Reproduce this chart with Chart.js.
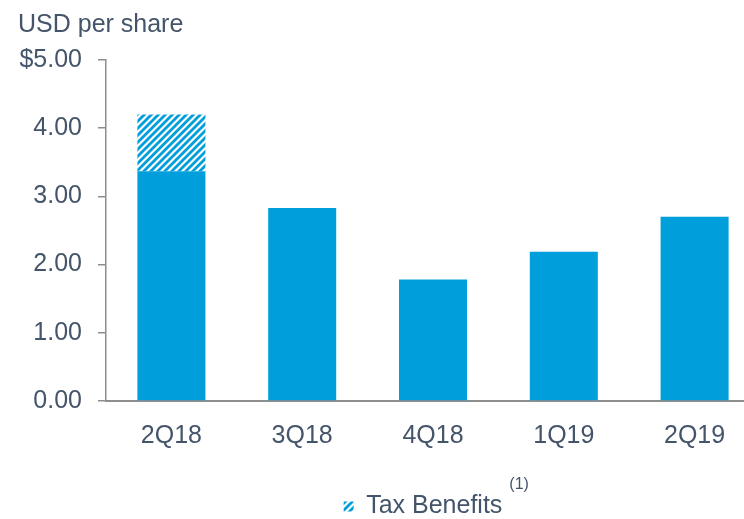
<!DOCTYPE html>
<html>
<head>
<meta charset="utf-8">
<script src="https://cdn.jsdelivr.net/npm/chart.js@4/dist/chart.umd.min.js"></script>
<style>
  html, body { margin: 0; padding: 0; overflow: hidden; background: #fff; }
  #wrap { position: relative; width: 760px; height: 519px; }
</style>
</head>
<body>
<div id="wrap"><canvas id="eps"></canvas></div>
<script>
const quarters = ["2Q18", "3Q18", "4Q18", "1Q19", "2Q19"];
const baseEps = [3.37, 2.83, 1.78, 2.19, 2.70];
const taxBenefits = [0.83, null, null, null, null];
const yTicks = [0, 1, 2, 3, 4, 5];

const BLUE = "#009fdb";
const TEXT = "#44546a";
const AXIS = "#8e8e8e";
const FONT = "'Liberation Sans', Arial, sans-serif";

const makeHatch = () => {
  const size = 7;
  const p = document.createElement("canvas");
  p.width = p.height = size;
  const c = p.getContext("2d");
  c.fillStyle = "#ffffff";
  c.fillRect(0, 0, size, size);
  c.strokeStyle = BLUE;
  c.lineWidth = 2.8;
  c.beginPath();
  c.moveTo(0, size); c.lineTo(size, 0);
  c.moveTo(-size / 2, size / 2); c.lineTo(size / 2, -size / 2);
  c.moveTo(size / 2, size * 1.5); c.lineTo(size * 1.5, size / 2);
  c.stroke();
  return c.createPattern(p, "repeat");
};
const hatch = makeHatch();

// legend sits a bit left of centre in the original, and carries a "(1)" note
const legendTweak = {
  id: "legendTweak",
  afterLayout(chart) {
    const legend = chart.legend;
    if (!legend) return;
    legend.left -= 10;
    legend.right -= 10;
  },
  afterDraw(chart) {
    const legend = chart.legend;
    if (!legend || !legend.legendHitBoxes.length) return;
    const box = legend.legendHitBoxes[0];
    const ctx = chart.ctx;
    ctx.save();
    ctx.font = `16px ${FONT}`;
    ctx.fillStyle = TEXT;
    ctx.textBaseline = "alphabetic";
    ctx.fillText("(1)", box.left + box.width + 7, box.top - 5);
    ctx.restore();
  },
};

new Chart(document.getElementById("eps"), {
  type: "bar",
  data: {
    labels: quarters,
    datasets: [
      {
        label: "EPS",
        data: baseEps,
        backgroundColor: BLUE,
        borderWidth: 0,
        barPercentage: 0.52,
        categoryPercentage: 1,
        stack: "eps",
      },
      {
        label: "Tax Benefits",
        data: taxBenefits,
        backgroundColor: hatch,
        borderWidth: 0,
        barPercentage: 0.52,
        categoryPercentage: 1,
        stack: "eps",
      },
    ],
  },
  options: {
    responsive: true,
    maintainAspectRatio: false,
    animation: false,
    layout: { padding: { left: 18, right: 0, top: 0, bottom: -10 } },
    plugins: {
      title: {
        display: true,
        text: "USD per share",
        align: "start",
        color: TEXT,
        font: { family: FONT, size: 25, weight: "normal" },
        padding: { top: 10, bottom: 20 },
      },
      legend: {
        position: "bottom",
        fullSize: false,
        labels: {
          filter: (item) => item.text === "Tax Benefits",
          color: TEXT,
          font: { family: FONT, size: 25 },
          boxWidth: 10,
          boxHeight: 10,
          padding: 4,
        },
      },
      tooltip: { enabled: false },
    },
    scales: {
      x: {
        stacked: true,
        afterFit: (scale) => {
          scale.height = 89;
        },
        grid: { display: false, drawTicks: false },
        border: { display: true, color: AXIS, width: 2 },
        ticks: {
          color: TEXT,
          font: { family: FONT, size: 25 },
          padding: 20,
        },
      },
      y: {
        stacked: true,
        min: 0,
        max: 5,
        afterBuildTicks: (scale) => {
          scale.ticks = yTicks.map((v) => ({ value: v }));
        },
        afterFit: (scale) => {
          scale.width = 88;
        },
        grid: {
          drawOnChartArea: false,
          drawTicks: true,
          tickLength: 8,
          color: AXIS,
          lineWidth: 1.5,
        },
        border: { display: true, color: AXIS, width: 1.5 },
        ticks: {
          color: TEXT,
          font: { family: FONT, size: 25 },
          padding: 16,
          callback: (v) => (v === 5 ? "$5.00" : Number(v).toFixed(2)),
        },
      },
    },
  },
  plugins: [legendTweak],
});
</script>
</body>
</html>
